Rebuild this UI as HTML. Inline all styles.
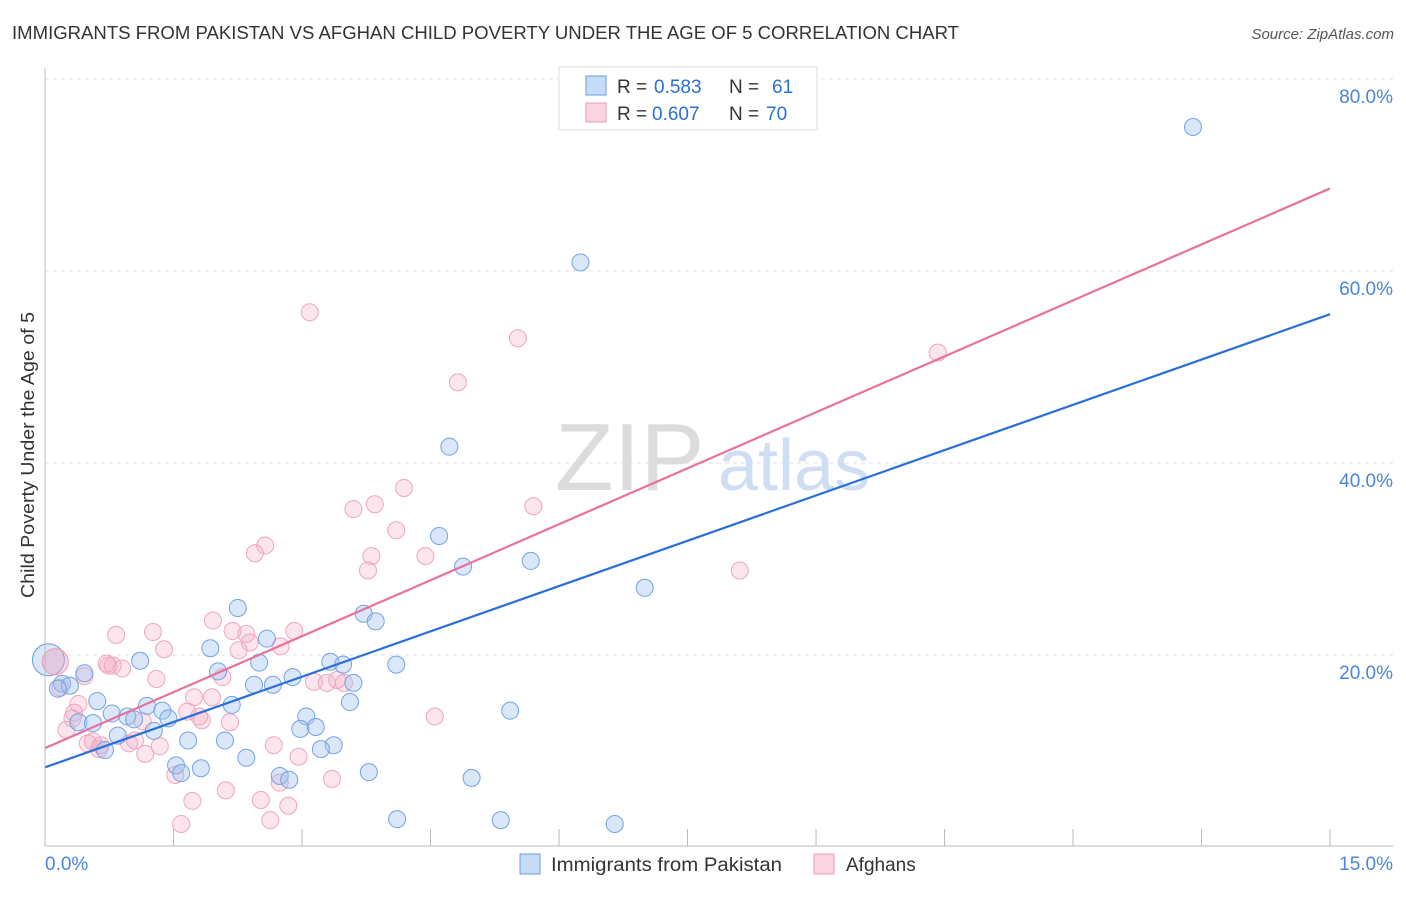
<!DOCTYPE html>
<html><head><meta charset="utf-8"><style>
body{margin:0;background:#fff;font-family:"Liberation Sans",sans-serif}
svg text{font-family:"Liberation Sans",sans-serif}
</style></head><body>
<svg id="chart" width="1406" height="892" xmlns="http://www.w3.org/2000/svg">
<text x="12" y="39" font-size="18" fill="#333" textLength="947" lengthAdjust="spacingAndGlyphs">IMMIGRANTS FROM PAKISTAN VS AFGHAN CHILD POVERTY UNDER THE AGE OF 5 CORRELATION CHART</text>
<text x="1394" y="39" font-size="15" fill="#555" font-style="italic" text-anchor="end">Source: ZipAtlas.com</text>
<g id="grid"></g>
<text x="555" y="490" font-size="96" fill="#dcdcdc" font-family="Liberation Serif">ZIP</text>
<text x="718" y="490" font-size="72" fill="#cfdef3">atlas</text>
<g id="pts"></g>
<g id="lines"></g>
<g id="axes"></g>
<text x="34" y="455" font-size="18" fill="#333" text-anchor="middle" textLength="286" lengthAdjust="spacingAndGlyphs" transform="rotate(-90 34 455)">Child Poverty Under the Age of 5</text>
<g>
<rect x="559" y="67" width="258" height="63" fill="#fff" stroke="#ddd"/>
<rect x="586" y="76" width="20" height="19" fill="rgba(160,195,240,0.6)" stroke="#6a9be0"/>
<rect x="586" y="103" width="20" height="19" fill="rgba(245,170,195,0.5)" stroke="#ee9ab5"/>
<text y="93" font-size="19" fill="#333"><tspan x="617">R =</tspan><tspan x="654" fill="#2a6fd6">0.583</tspan><tspan x="729">N =</tspan><tspan x="772" fill="#2a6fd6">61</tspan></text>
<text y="120" font-size="19" fill="#333"><tspan x="617">R =</tspan><tspan x="652" fill="#2a6fd6">0.607</tspan><tspan x="729">N =</tspan><tspan x="766" fill="#2a6fd6">70</tspan></text>
</g>
<g>
<rect x="520" y="854" width="20" height="20" fill="rgba(160,195,240,0.6)" stroke="#6a9be0"/>
<text x="551" y="871" font-size="19" fill="#333" textLength="231" lengthAdjust="spacingAndGlyphs">Immigrants from Pakistan</text>
<rect x="814" y="854" width="20" height="20" fill="rgba(245,170,195,0.5)" stroke="#ee9ab5"/>
<text x="846" y="871" font-size="19" fill="#333">Afghans</text>
</g>
</svg>
<script>
const yTicks=[20,40,60,80];
const yTickLabels=["20.0%","40.0%","60.0%","80.0%"];
const xTicks=[0,1.5,3,4.5,6,7.5,9,10.5,12,13.5,15];
const blueX=[13.40,6.25,4.72,4.60,4.88,5.67,7.00,2.25,3.72,3.86,2.59,1.93,1.11,3.33,3.48,2.50,4.10,0.46,2.02,2.89,0.20,0.29,0.15,3.60,2.44,2.66,0.61,1.19,2.18,3.56,1.37,1.44,0.78,0.96,1.04,3.05,0.39,0.56,3.16,2.98,1.27,0.85,1.67,2.10,5.43,3.37,3.22,0.70,2.35,1.53,1.82,1.59,3.78,4.98,2.74,2.85,4.11,5.32,6.65];
const blueY=[75.0,60.9,41.7,32.4,29.2,29.8,27.0,24.9,24.3,23.5,21.7,20.7,19.4,19.3,19.0,19.2,19.0,18.1,18.3,17.7,17.0,16.8,16.5,17.1,16.9,16.9,15.2,14.7,14.8,15.1,14.2,13.4,13.9,13.6,13.3,13.6,13.0,12.9,12.5,12.3,12.1,11.6,11.1,11.1,14.2,10.6,10.2,10.1,9.3,8.5,8.2,7.7,7.8,7.2,7.4,7.0,2.9,2.8,2.4];
const pinkX=[3.09,5.52,10.42,4.82,4.19,3.85,3.60,5.70,4.10,2.57,2.45,3.81,4.44,3.77,8.11,1.96,2.19,2.91,1.26,0.83,2.35,2.39,2.75,1.39,2.26,0.74,0.79,0.90,2.07,1.30,3.14,3.29,3.49,3.41,0.46,1.74,1.95,0.39,0.34,1.66,1.83,2.16,1.80,0.25,1.14,0.56,0.50,0.63,0.98,0.65,1.17,1.34,2.67,2.96,4.55,1.52,2.74,3.35,1.72,2.11,2.52,2.84,2.63,1.59,0.18,0.32,1.05,0.72];
const pinkY=[55.7,53.0,51.5,48.4,37.4,35.7,35.2,35.5,33.0,31.4,30.6,30.3,30.3,28.8,28.8,23.6,22.5,22.5,22.4,22.1,22.2,21.3,20.9,20.6,20.5,18.9,18.9,18.6,17.7,17.5,17.2,17.1,17.1,17.4,17.8,15.6,15.6,14.9,14.0,14.1,13.2,13.0,13.6,12.2,13.1,11.0,10.8,10.2,10.8,10.6,9.7,10.5,10.6,9.4,13.6,7.5,6.7,7.1,4.8,5.9,4.9,4.3,2.8,2.4,16.6,13.4,11.1,19.1];
const bigBlue=[0.04,19.5], bigPink=[0.12,19.3];
const blueLine=[8.3,55.5], pinkLine=[10.3,68.6];
const X=v=>45+v*85.67, Y=v=>847-v*9.6;
const NS="http://www.w3.org/2000/svg";
function mk(t,a,p){const e=document.createElementNS(NS,t);for(const k in a)e.setAttribute(k,a[k]);p.appendChild(e);return e;}
const grid=document.getElementById('grid'),axes=document.getElementById('axes'),pts=document.getElementById('pts'),lines=document.getElementById('lines');
yTicks.forEach((t,i)=>{
 const l=mk('line',{x1:45,x2:1393,y1:Y(t),y2:Y(t),stroke:'#e2e2e2','stroke-dasharray':'4,4'},grid);
 
 
 const tx=mk('text',{x:1393,y:Y(t)+24,'font-size':19,fill:'#4a86d8','text-anchor':'end'},axes);
 tx.textContent=yTickLabels[i];
 
 
});
const ya=mk('line',{x1:45,x2:45,y1:68,y2:846,stroke:'#bbb'},axes);


const xa=mk('line',{x1:45,x2:1393,y1:846,y2:846,stroke:'#bbb'},axes);


xTicks.forEach(t=>{const l=mk('line',{x1:X(t),x2:X(t),y1:829,y2:846,stroke:'#bbb'},axes);
 
 });
let a=mk('text',{x:45,y:870,'font-size':19,fill:'#4a86d8'},axes);a.textContent='0.0%';


a=mk('text',{x:1393,y:870,'font-size':19,fill:'#4a86d8','text-anchor':'end'},axes);a.textContent='15.0%';


function dots(xs,ys,fill,stroke,name){xs.forEach((x,i)=>{const c=mk('circle',{cx:X(x),cy:Y(ys[i]),r:8.5,fill:fill,stroke:stroke,'stroke-width':1},pts);
 
 });}
let bc=mk('circle',{cx:X(bigBlue[0]),cy:Y(bigBlue[1]),r:16,fill:'rgba(160,195,240,0.4)',stroke:'#6a9be0','stroke-width':1},pts);


bc=mk('circle',{cx:X(bigPink[0]),cy:Y(bigPink[1]),r:13,fill:'rgba(240,160,190,0.4)',stroke:'#ee9ab5','stroke-width':1},pts);


dots(pinkX,pinkY,'rgba(245,170,195,0.3)','#f0a5be','point-afghans');
dots(blueX,blueY,'rgba(160,195,240,0.4)','#74a2e2','point-pakistan');
let ln=mk('line',{x1:X(0),y1:Y(pinkLine[0]),x2:X(15),y2:Y(pinkLine[1]),stroke:'#e8709a','stroke-width':2.2},lines);


ln=mk('line',{x1:X(0),y1:Y(blueLine[0]),x2:X(15),y2:Y(blueLine[1]),stroke:'#2a6fd6','stroke-width':2.2},lines);


</script>
</body></html>
